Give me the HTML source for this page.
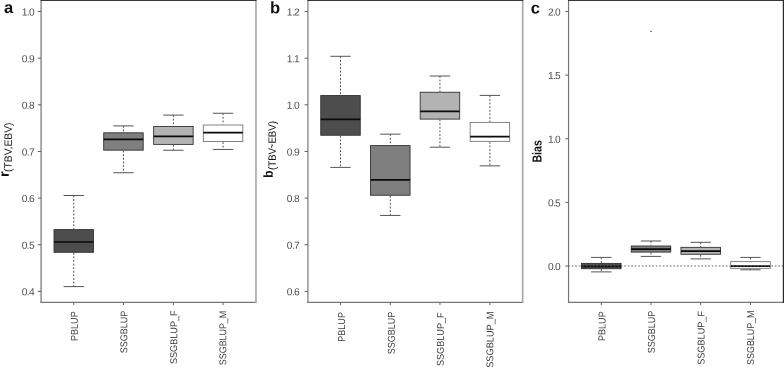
<!DOCTYPE html>
<html lang="en"><head><meta charset="utf-8"><title>Boxplots</title>
<style>html,body{margin:0;padding:0;background:#fff}body{width:784px;height:367px;overflow:hidden}
svg.fig{display:block;will-change:transform;transform:translateZ(0)}
svg.fig text{font-family:"Liberation Sans",Arial,Helvetica,sans-serif;text-rendering:geometricPrecision}</style>
</head><body>
<svg width="784" height="367" viewBox="0 0 784 367" class="fig">
<rect width="784" height="367" fill="#fff"/>
<line x1="73.75" y1="195.5" x2="73.75" y2="229.1" stroke="#484848" stroke-width="0.95" stroke-dasharray="1.9 1.7"/>
<line x1="73.75" y1="252.8" x2="73.75" y2="286.6" stroke="#484848" stroke-width="0.95" stroke-dasharray="1.9 1.7"/>
<line x1="63.55" y1="195.5" x2="83.95" y2="195.5" stroke="#555" stroke-width="1"/>
<line x1="63.55" y1="286.6" x2="83.95" y2="286.6" stroke="#555" stroke-width="1"/>
<rect x="54.00" y="229.60" width="39.50" height="22.70" fill="#4d4d4d" stroke="#333" stroke-width="0.9"/>
<line x1="54.0" y1="242.0" x2="93.5" y2="242.0" stroke="#0a0a0a" stroke-width="1.7"/>
<line x1="123.45" y1="125.9" x2="123.45" y2="132.3" stroke="#484848" stroke-width="0.95" stroke-dasharray="1.9 1.7"/>
<line x1="123.45" y1="150.66" x2="123.45" y2="172.74" stroke="#484848" stroke-width="0.95" stroke-dasharray="1.9 1.7"/>
<line x1="113.25" y1="125.9" x2="133.65" y2="125.9" stroke="#555" stroke-width="1"/>
<line x1="113.25" y1="172.74" x2="133.65" y2="172.74" stroke="#555" stroke-width="1"/>
<rect x="103.70" y="132.80" width="39.50" height="17.36" fill="#7f7f7f" stroke="#333" stroke-width="0.9"/>
<line x1="103.7" y1="139.45" x2="143.2" y2="139.45" stroke="#0a0a0a" stroke-width="1.7"/>
<line x1="173.4" y1="115.1" x2="173.4" y2="126.0" stroke="#484848" stroke-width="0.95" stroke-dasharray="1.9 1.7"/>
<line x1="173.4" y1="144.9" x2="173.4" y2="150.25" stroke="#484848" stroke-width="0.95" stroke-dasharray="1.9 1.7"/>
<line x1="163.20000000000002" y1="115.1" x2="183.6" y2="115.1" stroke="#555" stroke-width="1"/>
<line x1="163.20000000000002" y1="150.25" x2="183.6" y2="150.25" stroke="#555" stroke-width="1"/>
<rect x="153.65" y="126.50" width="39.50" height="17.90" fill="#b3b3b3" stroke="#333" stroke-width="0.9"/>
<line x1="153.7" y1="136.35" x2="193.2" y2="136.35" stroke="#0a0a0a" stroke-width="1.7"/>
<line x1="223.05" y1="113.25" x2="223.05" y2="124.5" stroke="#484848" stroke-width="0.95" stroke-dasharray="1.9 1.7"/>
<line x1="223.05" y1="142.05" x2="223.05" y2="149.45" stroke="#484848" stroke-width="0.95" stroke-dasharray="1.9 1.7"/>
<line x1="212.85000000000002" y1="113.25" x2="233.25" y2="113.25" stroke="#555" stroke-width="1"/>
<line x1="212.85000000000002" y1="149.45" x2="233.25" y2="149.45" stroke="#555" stroke-width="1"/>
<rect x="203.30" y="125.00" width="39.50" height="16.55" fill="#ffffff" stroke="#777" stroke-width="0.9"/>
<line x1="203.3" y1="132.7" x2="242.8" y2="132.7" stroke="#0a0a0a" stroke-width="1.7"/>
<line x1="41.1" y1="0" x2="41.1" y2="303.0" stroke="#959595" stroke-width="1.6"/>
<line x1="40.4" y1="302.4" x2="256.34999999999997" y2="302.4" stroke="#777" stroke-width="1.2"/>
<line x1="255.95" y1="0" x2="255.95" y2="303.0" stroke="#a8a8a8" stroke-width="1.65"/>
<rect x="40.7" y="0" width="215.8" height="0.9" fill="#222"/>
<line x1="37.8" y1="11.54" x2="41.1" y2="11.54" stroke="#5c5c5c" stroke-width="1"/>
<text transform="translate(34.05,15.54) rotate(0.2)" font-size="10.2" letter-spacing="-0.65" fill="#4d4d4d" text-anchor="end">1.0</text>
<line x1="37.8" y1="58.18" x2="41.1" y2="58.18" stroke="#5c5c5c" stroke-width="1"/>
<text transform="translate(34.05,62.18) rotate(0.2)" font-size="10.2" letter-spacing="-0.65" fill="#4d4d4d" text-anchor="end">0.9</text>
<line x1="37.8" y1="104.82" x2="41.1" y2="104.82" stroke="#5c5c5c" stroke-width="1"/>
<text transform="translate(34.05,108.82) rotate(0.2)" font-size="10.2" letter-spacing="-0.65" fill="#4d4d4d" text-anchor="end">0.8</text>
<line x1="37.8" y1="151.46" x2="41.1" y2="151.46" stroke="#5c5c5c" stroke-width="1"/>
<text transform="translate(34.05,155.46) rotate(0.2)" font-size="10.2" letter-spacing="-0.65" fill="#4d4d4d" text-anchor="end">0.7</text>
<line x1="37.8" y1="198.1" x2="41.1" y2="198.1" stroke="#5c5c5c" stroke-width="1"/>
<text transform="translate(34.05,202.10) rotate(0.2)" font-size="10.2" letter-spacing="-0.65" fill="#4d4d4d" text-anchor="end">0.6</text>
<line x1="37.8" y1="244.74" x2="41.1" y2="244.74" stroke="#5c5c5c" stroke-width="1"/>
<text transform="translate(34.05,248.74) rotate(0.2)" font-size="10.2" letter-spacing="-0.65" fill="#4d4d4d" text-anchor="end">0.5</text>
<line x1="37.8" y1="291.38" x2="41.1" y2="291.38" stroke="#5c5c5c" stroke-width="1"/>
<text transform="translate(34.05,295.38) rotate(0.2)" font-size="10.2" letter-spacing="-0.65" fill="#4d4d4d" text-anchor="end">0.4</text>
<line x1="73.75" y1="302.4" x2="73.75" y2="305.09999999999997" stroke="#606060" stroke-width="1"/>
<text transform="translate(77.80,311.30) rotate(-89.8) scale(0.92,1)" font-size="9.9" fill="#3c3c3c" text-anchor="end">PBLUP</text>
<line x1="123.45" y1="302.4" x2="123.45" y2="305.09999999999997" stroke="#606060" stroke-width="1"/>
<text transform="translate(127.40,310.80) rotate(-89.8) scale(0.908,1)" font-size="9.9" fill="#3c3c3c" text-anchor="end">SSGBLUP</text>
<line x1="173.4" y1="302.4" x2="173.4" y2="305.09999999999997" stroke="#606060" stroke-width="1"/>
<text transform="translate(177.25,310.30) rotate(-89.8) scale(0.925,1)" font-size="9.9" fill="#3c3c3c" text-anchor="end">SSGBLUP_F</text>
<line x1="223.05" y1="302.4" x2="223.05" y2="305.09999999999997" stroke="#606060" stroke-width="1"/>
<text transform="translate(226.40,310.80) rotate(-89.8) scale(0.9,1)" font-size="9.9" fill="#3c3c3c" text-anchor="end">SSGBLUP_M</text>
<text transform="translate(4.1,12.9) rotate(0.2)" font-size="16.5" font-weight="bold" fill="#111">a</text>
<line x1="340.5" y1="56.3" x2="340.5" y2="95.05" stroke="#484848" stroke-width="0.95" stroke-dasharray="1.9 1.7"/>
<line x1="340.5" y1="135.75" x2="340.5" y2="167.4" stroke="#484848" stroke-width="0.95" stroke-dasharray="1.9 1.7"/>
<line x1="330.3" y1="56.3" x2="350.7" y2="56.3" stroke="#555" stroke-width="1"/>
<line x1="330.3" y1="167.4" x2="350.7" y2="167.4" stroke="#555" stroke-width="1"/>
<rect x="320.75" y="95.55" width="39.50" height="39.70" fill="#4d4d4d" stroke="#333" stroke-width="0.9"/>
<line x1="320.8" y1="119.4" x2="360.2" y2="119.4" stroke="#0a0a0a" stroke-width="1.7"/>
<line x1="390.3" y1="134.15" x2="390.3" y2="145.1" stroke="#484848" stroke-width="0.95" stroke-dasharray="1.9 1.7"/>
<line x1="390.3" y1="195.75" x2="390.3" y2="215.45" stroke="#484848" stroke-width="0.95" stroke-dasharray="1.9 1.7"/>
<line x1="380.1" y1="134.15" x2="400.5" y2="134.15" stroke="#555" stroke-width="1"/>
<line x1="380.1" y1="215.45" x2="400.5" y2="215.45" stroke="#555" stroke-width="1"/>
<rect x="370.55" y="145.60" width="39.50" height="49.65" fill="#7f7f7f" stroke="#333" stroke-width="0.9"/>
<line x1="370.6" y1="179.8" x2="410.1" y2="179.8" stroke="#0a0a0a" stroke-width="1.7"/>
<line x1="439.95" y1="76.0" x2="439.95" y2="91.75" stroke="#484848" stroke-width="0.95" stroke-dasharray="1.9 1.7"/>
<line x1="439.95" y1="119.6" x2="439.95" y2="147.2" stroke="#484848" stroke-width="0.95" stroke-dasharray="1.9 1.7"/>
<line x1="429.75" y1="76.0" x2="450.15" y2="76.0" stroke="#555" stroke-width="1"/>
<line x1="429.75" y1="147.2" x2="450.15" y2="147.2" stroke="#555" stroke-width="1"/>
<rect x="420.20" y="92.25" width="39.50" height="26.85" fill="#b3b3b3" stroke="#333" stroke-width="0.9"/>
<line x1="420.2" y1="111.45" x2="459.7" y2="111.45" stroke="#0a0a0a" stroke-width="1.7"/>
<line x1="489.9" y1="95.4" x2="489.9" y2="121.9" stroke="#484848" stroke-width="0.95" stroke-dasharray="1.9 1.7"/>
<line x1="489.9" y1="141.85" x2="489.9" y2="165.85" stroke="#484848" stroke-width="0.95" stroke-dasharray="1.9 1.7"/>
<line x1="479.7" y1="95.4" x2="500.09999999999997" y2="95.4" stroke="#555" stroke-width="1"/>
<line x1="479.7" y1="165.85" x2="500.09999999999997" y2="165.85" stroke="#555" stroke-width="1"/>
<rect x="470.15" y="122.40" width="39.50" height="18.95" fill="#ffffff" stroke="#777" stroke-width="0.9"/>
<line x1="470.1" y1="136.6" x2="509.6" y2="136.6" stroke="#0a0a0a" stroke-width="1.7"/>
<line x1="307.93" y1="0" x2="307.93" y2="303.0" stroke="#959595" stroke-width="1.5"/>
<line x1="307.23" y1="302.4" x2="523.1" y2="302.4" stroke="#777" stroke-width="1.2"/>
<line x1="522.7" y1="0" x2="522.7" y2="303.0" stroke="#a8a8a8" stroke-width="1.65"/>
<rect x="307.53000000000003" y="0" width="215.7" height="0.9" fill="#222"/>
<line x1="304.6" y1="11.54" x2="307.93" y2="11.54" stroke="#5c5c5c" stroke-width="1"/>
<text transform="translate(299.08,15.54) rotate(0.2)" font-size="10.2" letter-spacing="-0.65" fill="#4d4d4d" text-anchor="end">1.2</text>
<line x1="304.6" y1="58.18" x2="307.93" y2="58.18" stroke="#5c5c5c" stroke-width="1"/>
<text transform="translate(299.08,62.18) rotate(0.2)" font-size="10.2" letter-spacing="-0.65" fill="#4d4d4d" text-anchor="end">1.1</text>
<line x1="304.6" y1="104.82" x2="307.93" y2="104.82" stroke="#5c5c5c" stroke-width="1"/>
<text transform="translate(299.08,108.82) rotate(0.2)" font-size="10.2" letter-spacing="-0.65" fill="#4d4d4d" text-anchor="end">1.0</text>
<line x1="304.6" y1="151.46" x2="307.93" y2="151.46" stroke="#5c5c5c" stroke-width="1"/>
<text transform="translate(299.08,155.46) rotate(0.2)" font-size="10.2" letter-spacing="-0.65" fill="#4d4d4d" text-anchor="end">0.9</text>
<line x1="304.6" y1="198.1" x2="307.93" y2="198.1" stroke="#5c5c5c" stroke-width="1"/>
<text transform="translate(299.08,202.10) rotate(0.2)" font-size="10.2" letter-spacing="-0.65" fill="#4d4d4d" text-anchor="end">0.8</text>
<line x1="304.6" y1="244.74" x2="307.93" y2="244.74" stroke="#5c5c5c" stroke-width="1"/>
<text transform="translate(299.08,248.74) rotate(0.2)" font-size="10.2" letter-spacing="-0.65" fill="#4d4d4d" text-anchor="end">0.7</text>
<line x1="304.6" y1="291.38" x2="307.93" y2="291.38" stroke="#5c5c5c" stroke-width="1"/>
<text transform="translate(299.08,295.38) rotate(0.2)" font-size="10.2" letter-spacing="-0.65" fill="#4d4d4d" text-anchor="end">0.6</text>
<line x1="340.5" y1="302.4" x2="340.5" y2="305.09999999999997" stroke="#606060" stroke-width="1"/>
<text transform="translate(345.10,312.00) rotate(-89.8) scale(0.92,1)" font-size="9.9" fill="#3c3c3c" text-anchor="end">PBLUP</text>
<line x1="390.3" y1="302.4" x2="390.3" y2="305.09999999999997" stroke="#606060" stroke-width="1"/>
<text transform="translate(394.80,311.80) rotate(-89.8) scale(0.908,1)" font-size="9.9" fill="#3c3c3c" text-anchor="end">SSGBLUP</text>
<line x1="439.95" y1="302.4" x2="439.95" y2="305.09999999999997" stroke="#606060" stroke-width="1"/>
<text transform="translate(443.95,312.30) rotate(-89.8) scale(0.925,1)" font-size="9.9" fill="#3c3c3c" text-anchor="end">SSGBLUP_F</text>
<line x1="489.9" y1="302.4" x2="489.9" y2="305.09999999999997" stroke="#606060" stroke-width="1"/>
<text transform="translate(493.50,311.50) rotate(-89.8) scale(0.932,1)" font-size="9.9" fill="#3c3c3c" text-anchor="end">SSGBLUP_M</text>
<text transform="translate(269.9,13.3) rotate(0.2)" font-size="16.5" font-weight="bold" fill="#111">b</text>
<line x1="568.3" y1="265.95" x2="783.4" y2="265.95" stroke="#a3a3a3" stroke-width="1.5" stroke-dasharray="1.6 1.9"/>
<line x1="601.3" y1="257.4" x2="601.3" y2="262.9" stroke="#484848" stroke-width="0.95" stroke-dasharray="1.9 1.7"/>
<line x1="601.3" y1="269.2" x2="601.3" y2="271.9" stroke="#484848" stroke-width="0.95" stroke-dasharray="1.9 1.7"/>
<line x1="591.0999999999999" y1="257.4" x2="611.5" y2="257.4" stroke="#555" stroke-width="1"/>
<line x1="591.0999999999999" y1="271.9" x2="611.5" y2="271.9" stroke="#555" stroke-width="1"/>
<rect x="581.55" y="263.40" width="39.50" height="5.30" fill="#4d4d4d" stroke="#333" stroke-width="0.9"/>
<line x1="581.5" y1="266.4" x2="621.0" y2="266.4" stroke="#0a0a0a" stroke-width="1.7"/>
<line x1="651.0" y1="241.0" x2="651.0" y2="245.5" stroke="#484848" stroke-width="0.95" stroke-dasharray="1.9 1.7"/>
<line x1="651.0" y1="252.6" x2="651.0" y2="256.4" stroke="#484848" stroke-width="0.95" stroke-dasharray="1.9 1.7"/>
<line x1="640.8" y1="241.0" x2="661.2" y2="241.0" stroke="#555" stroke-width="1"/>
<line x1="640.8" y1="256.4" x2="661.2" y2="256.4" stroke="#555" stroke-width="1"/>
<rect x="631.25" y="246.00" width="39.50" height="6.10" fill="#7f7f7f" stroke="#333" stroke-width="0.9"/>
<line x1="631.2" y1="249.05" x2="670.8" y2="249.05" stroke="#0a0a0a" stroke-width="1.7"/>
<line x1="700.7" y1="242.3" x2="700.7" y2="246.85" stroke="#484848" stroke-width="0.95" stroke-dasharray="1.9 1.7"/>
<line x1="700.7" y1="254.8" x2="700.7" y2="258.9" stroke="#484848" stroke-width="0.95" stroke-dasharray="1.9 1.7"/>
<line x1="690.5" y1="242.3" x2="710.9000000000001" y2="242.3" stroke="#555" stroke-width="1"/>
<line x1="690.5" y1="258.9" x2="710.9000000000001" y2="258.9" stroke="#555" stroke-width="1"/>
<rect x="680.95" y="247.35" width="39.50" height="6.95" fill="#b3b3b3" stroke="#333" stroke-width="0.9"/>
<line x1="681.0" y1="251.2" x2="720.5" y2="251.2" stroke="#0a0a0a" stroke-width="1.7"/>
<line x1="750.5" y1="257.4" x2="750.5" y2="261.1" stroke="#484848" stroke-width="0.95" stroke-dasharray="1.9 1.7"/>
<line x1="750.5" y1="268.85" x2="750.5" y2="269.8" stroke="#484848" stroke-width="0.95" stroke-dasharray="1.9 1.7"/>
<line x1="740.3" y1="257.4" x2="760.7" y2="257.4" stroke="#555" stroke-width="1"/>
<line x1="740.3" y1="269.8" x2="760.7" y2="269.8" stroke="#555" stroke-width="1"/>
<rect x="730.75" y="261.60" width="39.50" height="6.75" fill="#ffffff" stroke="#777" stroke-width="0.9"/>
<line x1="730.8" y1="266.05" x2="770.2" y2="266.05" stroke="#0a0a0a" stroke-width="1.7"/>
<rect x="650.3" y="30.9" width="1.5" height="1.1" fill="#555"/>
<line x1="568.3" y1="265.95" x2="783.4" y2="265.95" stroke="#a3a3a3" stroke-opacity="0.3" stroke-width="1.5" stroke-dasharray="1.6 1.9"/>
<line x1="568.56" y1="0" x2="568.56" y2="303.0" stroke="#777" stroke-width="1.2"/>
<line x1="567.8599999999999" y1="302.4" x2="783.8" y2="302.4" stroke="#777" stroke-width="1.2"/>
<line x1="783.4" y1="0" x2="783.4" y2="303.0" stroke="#2a2a2a" stroke-width="1.2"/>
<rect x="568.16" y="0" width="215.7" height="0.9" fill="#222"/>
<line x1="565.3" y1="11.47" x2="568.56" y2="11.47" stroke="#5c5c5c" stroke-width="1"/>
<text transform="translate(560.11,15.47) rotate(0.2)" font-size="10.2" letter-spacing="-0.65" fill="#4d4d4d" text-anchor="end">2.0</text>
<line x1="565.3" y1="75.12" x2="568.56" y2="75.12" stroke="#5c5c5c" stroke-width="1"/>
<text transform="translate(560.11,79.12) rotate(0.2)" font-size="10.2" letter-spacing="-0.65" fill="#4d4d4d" text-anchor="end">1.5</text>
<line x1="565.3" y1="138.76" x2="568.56" y2="138.76" stroke="#5c5c5c" stroke-width="1"/>
<text transform="translate(560.11,142.76) rotate(0.2)" font-size="10.2" letter-spacing="-0.65" fill="#4d4d4d" text-anchor="end">1.0</text>
<line x1="565.3" y1="202.4" x2="568.56" y2="202.4" stroke="#5c5c5c" stroke-width="1"/>
<text transform="translate(560.11,206.40) rotate(0.2)" font-size="10.2" letter-spacing="-0.65" fill="#4d4d4d" text-anchor="end">0.5</text>
<line x1="565.3" y1="266.05" x2="568.56" y2="266.05" stroke="#5c5c5c" stroke-width="1"/>
<text transform="translate(560.11,270.05) rotate(0.2)" font-size="10.2" letter-spacing="-0.65" fill="#4d4d4d" text-anchor="end">0.0</text>
<line x1="601.3" y1="302.4" x2="601.3" y2="305.09999999999997" stroke="#606060" stroke-width="1"/>
<text transform="translate(605.45,311.30) rotate(-89.8) scale(0.92,1)" font-size="9.9" fill="#3c3c3c" text-anchor="end">PBLUP</text>
<line x1="651.0" y1="302.4" x2="651.0" y2="305.09999999999997" stroke="#606060" stroke-width="1"/>
<text transform="translate(655.00,310.80) rotate(-89.8) scale(0.908,1)" font-size="9.9" fill="#3c3c3c" text-anchor="end">SSGBLUP</text>
<line x1="700.7" y1="302.4" x2="700.7" y2="305.09999999999997" stroke="#606060" stroke-width="1"/>
<text transform="translate(704.60,311.00) rotate(-89.8) scale(0.925,1)" font-size="9.9" fill="#3c3c3c" text-anchor="end">SSGBLUP_F</text>
<line x1="750.5" y1="302.4" x2="750.5" y2="305.09999999999997" stroke="#606060" stroke-width="1"/>
<text transform="translate(754.10,310.55) rotate(-89.8) scale(0.9,1)" font-size="9.9" fill="#3c3c3c" text-anchor="end">SSGBLUP_M</text>
<text transform="translate(530.8,13.5) rotate(0.2)" font-size="16.5" font-weight="bold" fill="#111">c</text>
<text transform="translate(8.7,176.9) rotate(-89.8) scale(1.04,1)" fill="#111" font-size="13.8" font-weight="bold">r</text>
<text transform="translate(11.6,172.0) rotate(-89.8) scale(0.975,1)" fill="#111" font-size="10.6">(TBV,EBV)</text>
<text transform="translate(272.7,177.75) rotate(-89.8) scale(0.905,1)" fill="#111" font-size="13" font-weight="bold">b</text>
<text transform="translate(275.7,170.0) rotate(-89.8) scale(0.915,1)" fill="#111" font-size="10.6">(TBV</text>
<text transform="translate(276.3,148.4) rotate(-89.8) scale(0.62,1)" fill="#111" font-size="13">~</text>
<text transform="translate(275.7,143.6) rotate(-89.8) scale(0.915,1)" fill="#111" font-size="10.6">EBV)</text>
<text transform="translate(541.5,162.6) rotate(-89.8) scale(0.815,1)" font-size="13" font-weight="bold" fill="#111">Bias</text>
</svg>
</body></html>
